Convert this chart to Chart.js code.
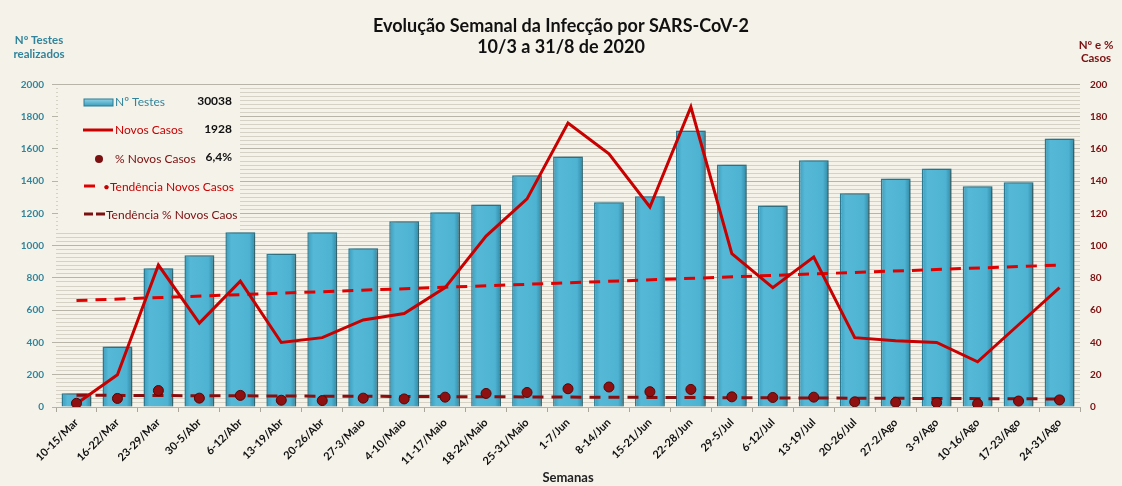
<!DOCTYPE html>
<html>
<head>
<meta charset="utf-8">
<script src="https://cdn.jsdelivr.net/npm/chart.js@4.4.1/dist/chart.umd.min.js"></script>
<style>
  html, body { margin: 0; padding: 0; background: #f5f2e9; }
  #wrap { width: 1122px; height: 486px; position: relative; }
</style>
</head>
<body>
<div id="wrap"><canvas id="graphCanvas"></canvas></div>
<script>
// Dados
const semanas = ['10-15/Mar', '16-22/Mar', '23-29/Mar', '30-5/Abr', '6-12/Abr', '13-19/Abr', '20-26/Abr',
    '27-3/Maio', '4-10/Maio', '11-17/Maio', '18-24/Maio', '25-31/Maio', '1-7/Jun', '8-14/Jun', '15-21/Jun',
    '22-28/Jun', '29-5/Jul', '6-12/Jul', '13-19/Jul', '20-26/Jul', '27-2/Ago', '3-9/Ago', '10-16/Ago',
    '17-23/Ago', '24-31/Ago'];
const testes = [85, 375, 860, 941, 1083, 950, 1083, 984, 1151, 1207, 1256, 1436, 1553, 1269, 1306,
    1714, 1504, 1250, 1529, 1325, 1417, 1479, 1368, 1393, 1665];
const novosCasos = [2, 20, 88, 52, 78, 40, 43, 54, 58, 74, 106, 129, 176, 157, 124,
    186, 95, 74, 93, 43, 41, 40, 28, 51, 74];
const pctNovosCasos = [2.3, 5.3, 10.2, 5.5, 7.2, 4.2, 4.0, 5.5, 5.0, 6.1, 8.4, 9.0, 11.3, 12.4, 9.5,
    10.9, 6.3, 5.9, 6.1, 3.2, 2.9, 2.7, 2.0, 3.7, 4.4];
const tendNovosCasos = [66, 88];   // início e fim da linha de tendência
const tendPctNovos = [7.3, 5.0];
const eixoTestes = { min: 0, max: 2000, step: 200 };
const eixoCasos = { min: 0, max: 200, step: 20 };
const totais = ['30038', '1928', '6,4%'];

const FONT = 'Lato, "Open Sans", sans-serif';
const TEAL = '#31849b';
const VERMELHO = '#c80000';
const BORDO = '#7a1010';

const primeira = semanas[0];
const ultima = semanas[semanas.length - 1];

// sombra nas barras
const sombraPlugin = {
    id: 'sombra',
    beforeDatasetDraw(chart, args) {
        if (args.meta.type === 'bar') {
            const ctx = chart.ctx;
            ctx.save();
            ctx.shadowColor = 'rgba(70, 60, 45, 0.45)';
            ctx.shadowOffsetX = 4;
            ctx.shadowBlur = 5;
        }
    },
    afterDatasetDraw(chart, args) {
        if (args.meta.type === 'bar') chart.ctx.restore();
    }
};

// legenda e títulos dos eixos
const extrasPlugin = {
    id: 'extras',
    beforeDatasetsDraw(chart) {
        const ctx = chart.ctx;
        ctx.save();
        // caixa da legenda
        ctx.fillStyle = '#f5f2e9';
        ctx.fillRect(58, 86, 182, 146);

        // Nº Testes
        const g = ctx.createLinearGradient(0, 99, 0, 106);
        g.addColorStop(0, '#8fd3e8');
        g.addColorStop(1, '#3a9dbb');
        ctx.fillStyle = g;
        ctx.fillRect(84, 99, 29, 7);
        ctx.strokeStyle = '#2b7d95';
        ctx.lineWidth = 1;
        ctx.strokeRect(84, 99, 29, 7);

        // Novos Casos
        ctx.strokeStyle = VERMELHO;
        ctx.lineWidth = 3;
        ctx.beginPath(); ctx.moveTo(83, 130); ctx.lineTo(113, 130); ctx.stroke();

        // % Novos Casos
        ctx.fillStyle = BORDO;
        ctx.beginPath(); ctx.arc(99, 159, 4, 0, Math.PI * 2); ctx.fill();

        // tendências
        ctx.strokeStyle = '#e00000';
        ctx.beginPath(); ctx.moveTo(84, 186); ctx.lineTo(95, 186); ctx.stroke();
        ctx.strokeStyle = BORDO;
        ctx.beginPath(); ctx.moveTo(84, 214); ctx.lineTo(93, 214); ctx.moveTo(96, 214); ctx.lineTo(105, 214); ctx.stroke();

        ctx.textBaseline = 'middle';
        ctx.textAlign = 'left';
        ctx.font = '12px ' + FONT;
        ctx.fillStyle = TEAL; ctx.fillText('Nº Testes', 115, 102);
        ctx.fillStyle = VERMELHO; ctx.fillText('Novos Casos', 115, 130);
        ctx.fillStyle = BORDO; ctx.fillText('% Novos Casos', 115, 159);
        ctx.fillStyle = VERMELHO; ctx.fillText('•Tendência Novos Casos', 103, 187);
        ctx.fillStyle = BORDO; ctx.fillText('Tendência % Novos Caos', 106, 215);

        ctx.textAlign = 'right';
        ctx.font = 'bold 12px ' + FONT;
        ctx.fillStyle = '#111';
        ctx.fillText(totais[0], 232, 101);
        ctx.fillText(totais[1], 232, 129);
        ctx.fillText(totais[2], 232, 157);

        // títulos dos eixos
        ctx.textAlign = 'center';
        ctx.font = 'bold 11.5px ' + FONT;
        ctx.fillStyle = TEAL;
        ctx.fillText('Nº Testes', 39, 40);
        ctx.fillText('realizados', 39, 54);
        ctx.fillStyle = BORDO;
        ctx.fillText('Nº e %', 1096, 45);
        ctx.fillText('Casos', 1096, 58);
        ctx.restore();
    }
};

function corBarra(c) {
    const ch = c.chart;
    const xs = ch.scales && ch.scales.x;
    if (!xs || c.dataIndex === undefined) return '#4bb1d0';
    const cx = xs.getPixelForValue(c.dataIndex);
    if (!Number.isFinite(cx)) return '#4bb1d0';
    const g = ch.ctx.createLinearGradient(cx - 15, 0, cx + 15, 0);
    g.addColorStop(0, '#3a9cba');
    g.addColorStop(0.2, '#55b8d6');
    g.addColorStop(0.8, '#4eb3d2');
    g.addColorStop(1, '#2f88a3');
    return g;
}

const ctx = document.getElementById('graphCanvas').getContext('2d');

const chart = new Chart(ctx, {
    type: 'bar',
    data: {
        labels: semanas,
        datasets: [
            {
                type: 'line',
                label: 'Novos Casos',
                data: novosCasos,
                yAxisID: 'y1',
                borderColor: VERMELHO,
                borderWidth: 3,
                pointRadius: 0,
                tension: 0,
                order: 2,
            },
            {
                type: 'line',
                label: 'Tendência Novos Casos',
                data: [{ x: primeira, y: tendNovosCasos[0] }, { x: ultima, y: tendNovosCasos[1] }],
                yAxisID: 'y1',
                borderColor: '#e00000',
                borderWidth: 3,
                borderDash: [11, 8],
                pointRadius: 0,
                order: 3,
            },
            {
                type: 'line',
                label: 'Tendência % Novos Caos',
                data: [{ x: primeira, y: tendPctNovos[0] }, { x: ultima, y: tendPctNovos[1] }],
                yAxisID: 'y1',
                borderColor: '#8b0d0d',
                borderWidth: 3,
                borderDash: [11, 8],
                pointRadius: 0,
                order: 3,
            },
            {
                type: 'line',
                label: '% Novos Casos',
                data: pctNovosCasos,
                yAxisID: 'y1',
                showLine: false,
                pointRadius: 5,
                pointBackgroundColor: '#8e1010',
                pointBorderColor: '#5a0505',
                pointBorderWidth: 1,
                order: 1,
            },
            {
                label: 'Nº Testes',
                data: testes,
                yAxisID: 'y',
                backgroundColor: corBarra,
                borderColor: '#2a7a92',
                borderWidth: 1.5,
                barPercentage: 0.8,
                categoryPercentage: 0.91,
                order: 5,
            },
        ],
    },
    options: {
        responsive: true,
        maintainAspectRatio: false,
        animation: false,
        layout: { padding: { left: 0, right: 0, top: 0, bottom: 0 } },
        plugins: {
            legend: { display: false },
            tooltip: { enabled: false },
            title: {
                display: true,
                text: ['Evolução Semanal da Infecção por SARS-CoV-2', '10/3 a 31/8 de 2020'],
                color: '#111',
                font: { family: FONT, size: 18, weight: 'bold', lineHeight: 1.15 },
                padding: { top: 16, bottom: 27 },
            },
        },
        scales: {
            x: {
                grid: {
                    display: true,
                    drawOnChartArea: false,
                    offset: true,
                    tickLength: 5,
                    color: '#a9a59b',
                },
                border: { color: '#b5b1a6' },
                ticks: {
                    color: '#111',
                    autoSkip: false,
                    maxRotation: 45,
                    minRotation: 45,
                    padding: 4,
                    font: { family: FONT, size: 11, weight: 'bold' },
                },
                title: {
                    display: true,
                    text: 'Semanas',
                    color: '#222',
                    font: { family: FONT, size: 13, weight: 'bold' },
                    padding: { top: 2, bottom: 0 },
                },
                afterFit(scale) { scale.height = 79; },
            },
            yMinor: {
                position: 'left',
                min: eixoTestes.min,
                max: eixoTestes.max,
                ticks: { display: false, stepSize: 25 },
                grid: { color: '#d5d1c4', drawTicks: false, lineWidth: 1 },
                border: { display: false },
                afterFit(scale) { scale.width = 0; },
            },
            y: {
                position: 'left',
                min: eixoTestes.min,
                max: eixoTestes.max,
                ticks: {
                    stepSize: eixoTestes.step,
                    color: TEAL,
                    padding: 8,
                    font: { family: FONT, size: 10, weight: 'bold' },
                    callback: (v) => String(v),
                },
                grid: { color: '#b8b4a8', tickLength: 4 },
                border: { display: false },
                afterFit(scale) { scale.width = 56; },
            },
            y1: {
                position: 'right',
                min: eixoCasos.min,
                max: eixoCasos.max,
                ticks: {
                    stepSize: eixoCasos.step,
                    color: BORDO,
                    padding: 10,
                    font: { family: FONT, size: 10, weight: 'bold' },
                    callback: (v) => String(v),
                },
                grid: { drawOnChartArea: false, tickLength: 0 },
                border: { display: false },
                afterFit(scale) { scale.width = 42; },
            },
        },
    },
    plugins: [extrasPlugin, sombraPlugin],
});
</script>
</body>
</html>
